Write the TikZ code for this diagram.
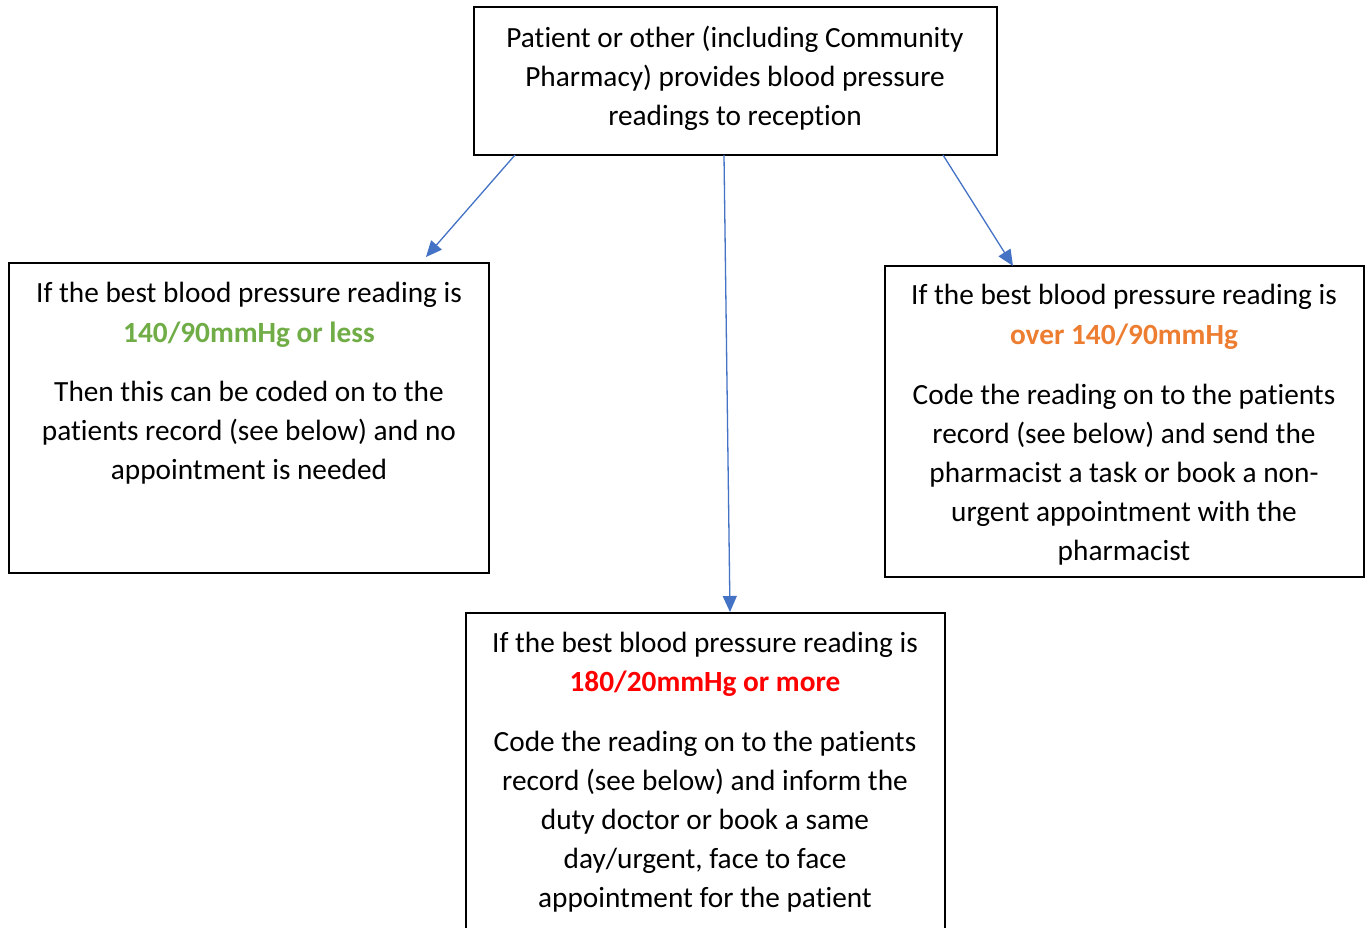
\documentclass[tikz,border=0pt]{standalone}
\usepackage{fontspec}
\setmainfont{Carlito}[Ligatures={NoCommon}]
\usetikzlibrary{arrows.meta}
\definecolor{arrblue}{HTML}{4472C4}
\definecolor{okgreen}{HTML}{70AD47}
\definecolor{warnorange}{HTML}{ED7D31}
\definecolor{alertred}{HTML}{FF0000}
\newcommand\diafont{\fontsize{29.3}{39}\selectfont}
\tikzset{
  box/.style={draw=black, line width=2pt, rectangle, anchor=north west, inner sep=0pt, outer sep=0pt},
  ln/.style={anchor=base, inner sep=0pt, outer sep=0pt, font=\diafont},
  arr/.style={draw=arrblue, line width=1.3pt, -{Triangle[length=16pt,width=14pt]}},
}
\begin{document}
\begin{tikzpicture}[x=1pt,y=-1pt]
\useasboundingbox (0,0) rectangle (1369,928);
\clip (0,0) rectangle (1369,928);
\fill[white] (0,0) rectangle (1369,928);
% boxes
\node[box, minimum width=523pt, minimum height=148pt] (top) at (474,7) {};
\node[box, minimum width=480pt, minimum height=310pt] (left) at (9,263) {};
\node[box, minimum width=479pt, minimum height=311pt] (right) at (885,266) {};
\node[box, minimum width=479pt, minimum height=387pt] (bottom) at (466,613) {};
% top text
\node[ln] (t1) at (735,47.5) {Patient or other (including Community};
\node[ln] (t2) at (735,86.5) {Pharmacy) provides blood pressure};
\node[ln] (t3) at (735,125.5) {readings to reception};
% left text
\node[ln] (l1) at (249,303) {If the best blood pressure reading is};
\node[ln, text=okgreen, font=\diafont\bfseries] (l2) at (249,342) {140/90mmHg or less};
\node[ln] (l3) at (249,401) {Then this can be coded on to the};
\node[ln] (l4) at (249,440) {patients record (see below) and no};
\node[ln] (l5) at (249,479) {appointment is needed};
% right text
\node[ln] (r1) at (1124,305) {If the best blood pressure reading is};
\node[ln, text=warnorange, font=\diafont\bfseries] (r2) at (1124,344) {over 140/90mmHg};
\node[ln] (r3) at (1124,404) {Code the reading on to the patients};
\node[ln] (r4) at (1124,443) {record (see below) and send the};
\node[ln] (r5) at (1124,482) {pharmacist a task or book a non-};
\node[ln] (r6) at (1124,521) {urgent appointment with the};
\node[ln] (r7) at (1124,560) {pharmacist};
% bottom text
\node[ln] (b1) at (705,652) {If the best blood pressure reading is};
\node[ln, text=alertred, font=\diafont\bfseries] (b2) at (705,691) {180/20mmHg or more};
\node[ln] (b3) at (705,751) {Code the reading on to the patients};
\node[ln] (b4) at (705,790) {record (see below) and inform the};
\node[ln] (b5) at (705,829) {duty doctor or book a same};
\node[ln] (b6) at (705,868) {day/urgent, face to face};
\node[ln] (b7) at (705,907) {appointment for the patient};
% connectors
\draw[arr] ([xshift=41pt]top.south west) -- ([xshift=417pt,yshift=6pt]left.north west);
\draw[arr] ([xshift=250pt]top.south west) -- ([xshift=264pt,yshift=1pt]bottom.north west);
\draw[arr] ([xshift=469pt]top.south west) -- ([xshift=128pt]right.north west);
\end{tikzpicture}
\end{document}
